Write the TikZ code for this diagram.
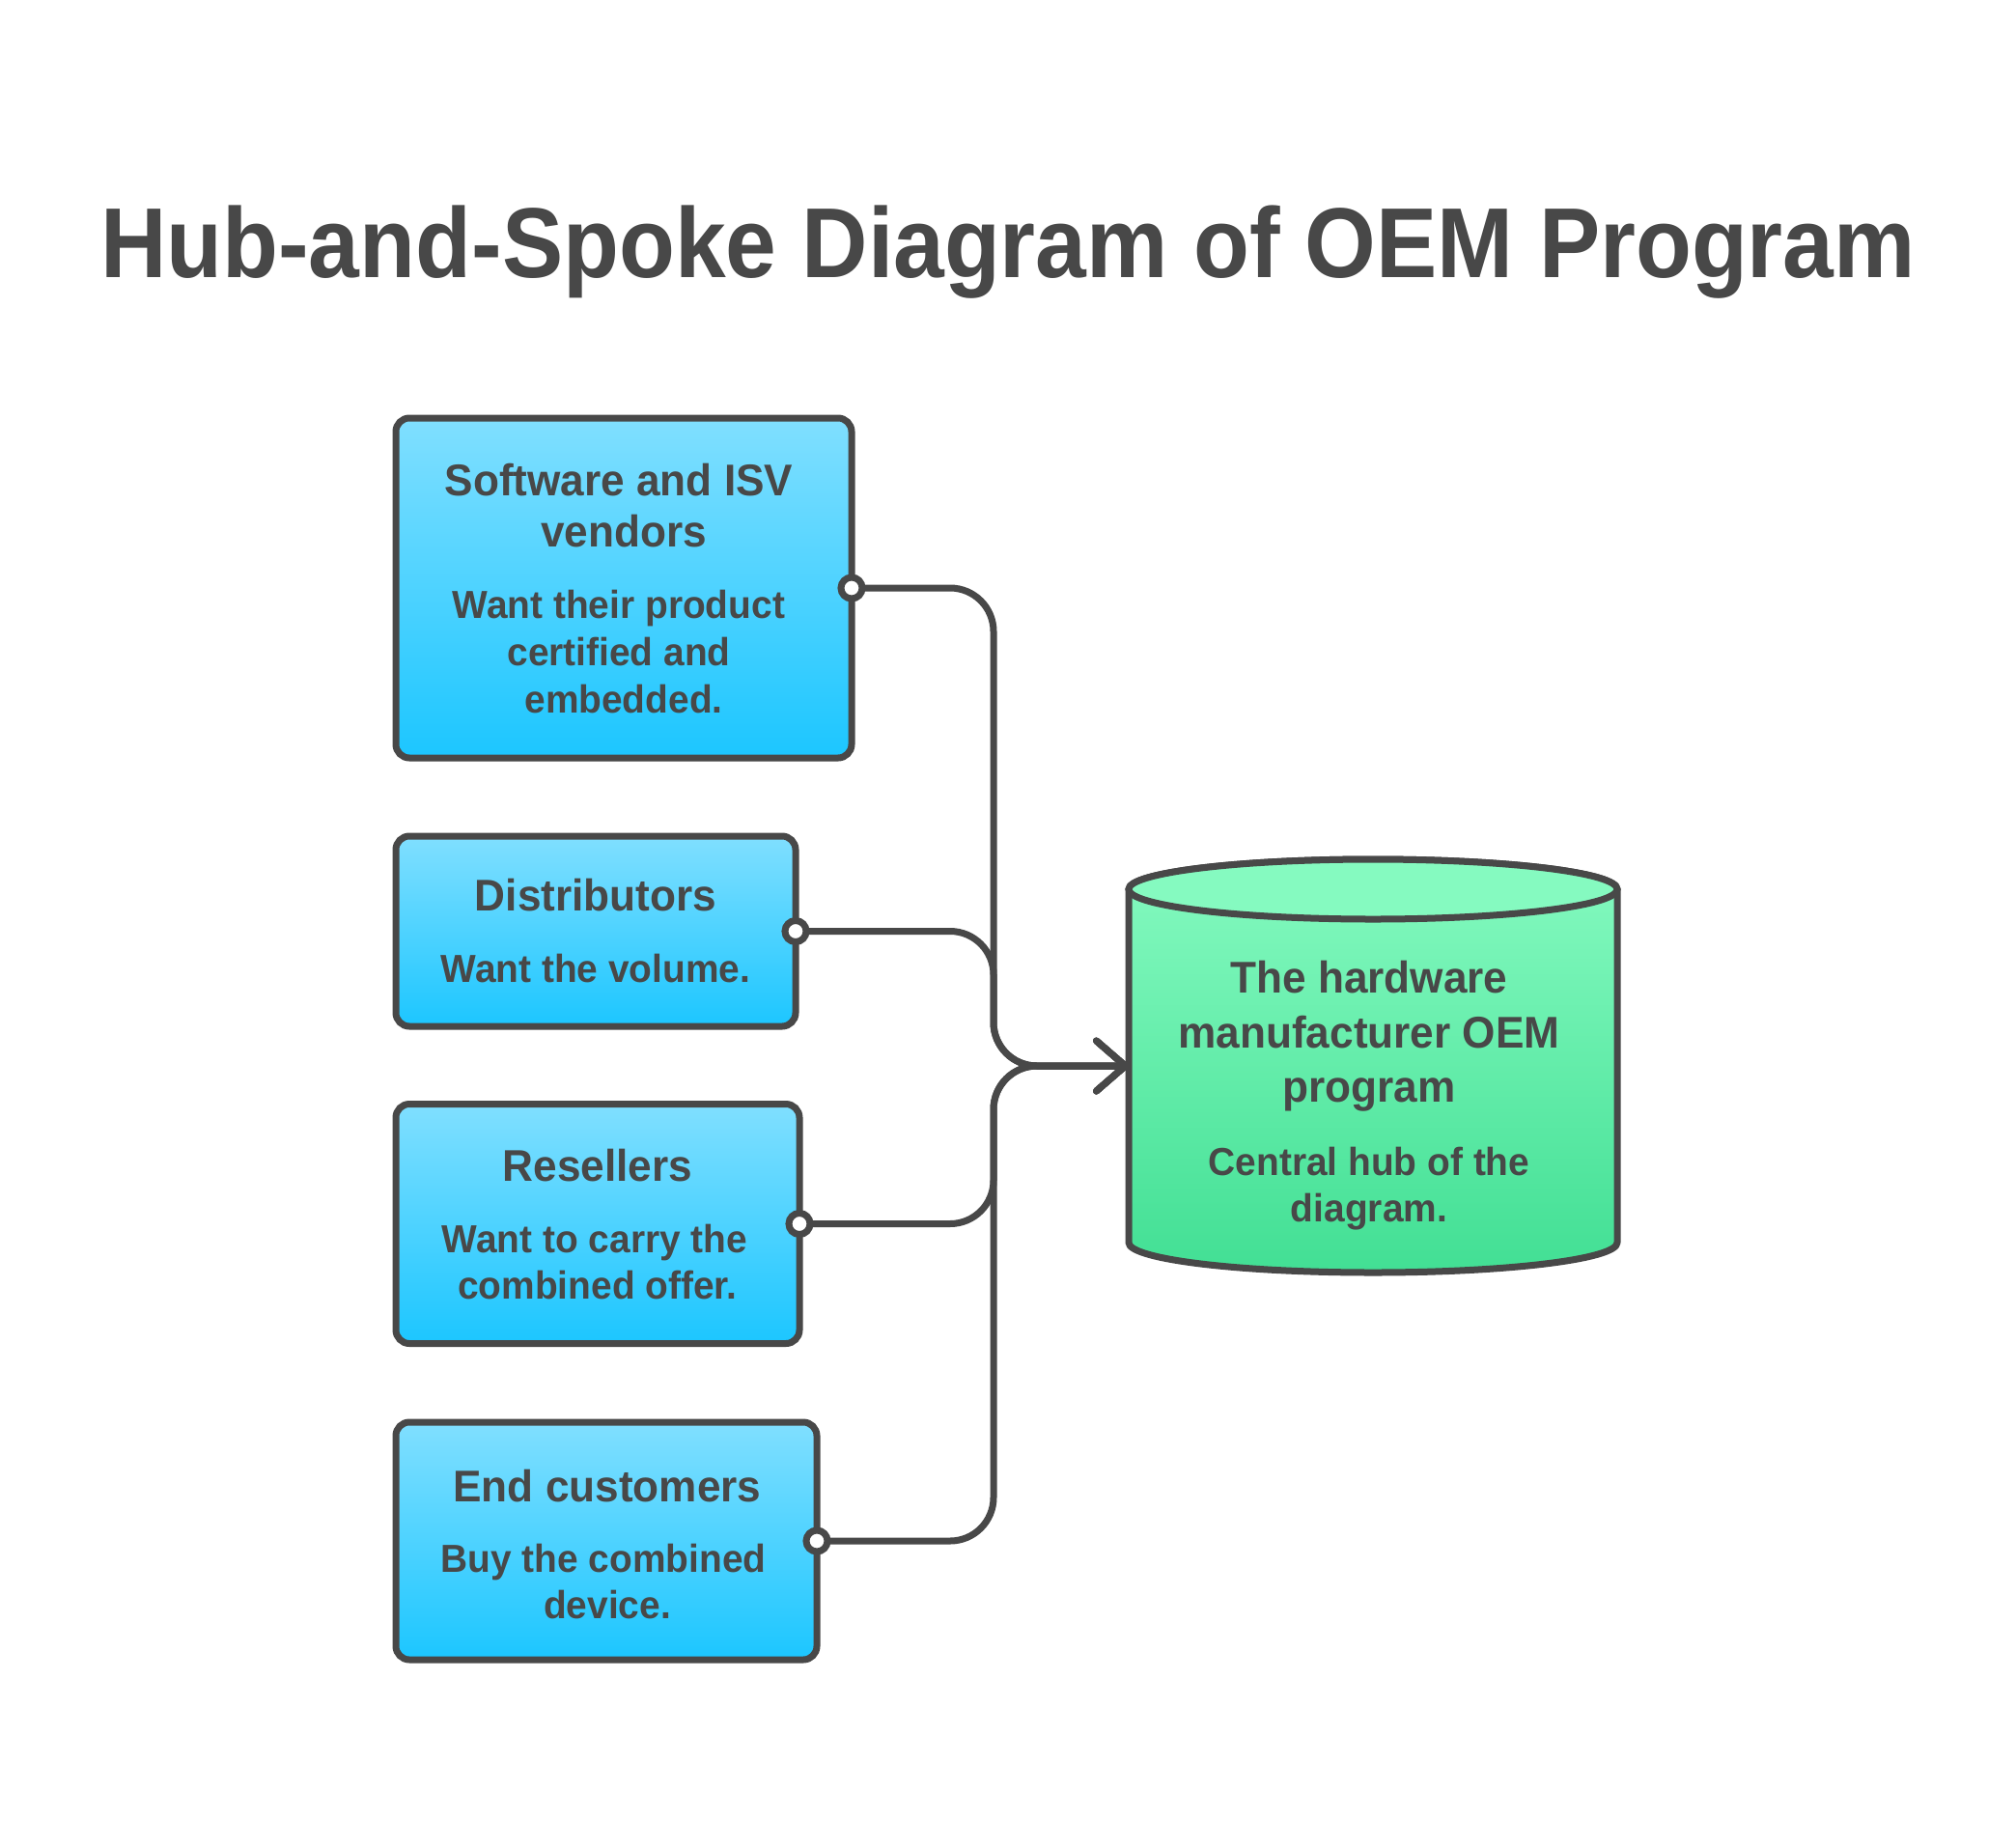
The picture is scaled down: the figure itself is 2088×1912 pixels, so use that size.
\documentclass[tikz,border=0pt]{standalone}
\usepackage{fontspec}
\setmainfont{Liberation Sans}[FakeStretch=0.96]
\newfontfamily\titlefont{Liberation Sans}[FakeStretch=0.92]
\usetikzlibrary{arrows.meta}
\definecolor{ink}{RGB}{72,72,72}
\definecolor{boxtop}{RGB}{128,223,255}
\definecolor{boxbot}{RGB}{28,198,255}
\definecolor{cyltop}{RGB}{133,250,192}
\definecolor{cylbot}{RGB}{66,223,148}
\begin{document}
\begin{tikzpicture}[x=0.5pt,y=-0.5pt,
  card/.style={draw=ink, line width=3.5pt, rounded corners=7pt, top color=boxtop, bottom color=boxbot, outer sep=0pt, inner sep=0pt},
  hd/.style={font=\bfseries\fontsize{23}{26}\selectfont, text=ink, inner sep=0pt, anchor=base},
  bd/.style={font=\bfseries\fontsize{20.25}{24}\selectfont, text=ink, inner sep=0pt, anchor=base},
  link/.style={draw=ink, line width=3.5pt, rounded corners=22.5pt, -{Straight Barb[length=15pt,width=26pt,round]}},
  port/.style={draw=ink, line width=3.5pt, fill=white}
]
\useasboundingbox (0,0) rectangle (2088,1912);
\fill[white] (0,0) rectangle (2088,1912);

% title
\node[font=\titlefont\bfseries\fontsize{51.5}{60}\selectfont, text=ink, anchor=base, inner sep=0pt] (title) at (1044,287) {Hub-and-Spoke Diagram of OEM Program};

% boxes
\node[card, minimum width=236pt, minimum height=176pt] (b1) at (646,609) {};
\node[card, minimum width=207pt, minimum height=98.5pt] (b2) at (617,964.5) {};
\node[card, minimum width=209pt, minimum height=124pt] (b3) at (619,1267.5) {};
\node[card, minimum width=218pt, minimum height=123pt] (b4) at (628,1596) {};

% box texts
\node[hd] (t1a) at (641,513) {Software and ISV};
\node[hd] (t1b) at (646,566) {vendors};
\node[bd] (t1c) at (641,640) {Want their product};
\node[bd] (t1d) at (641,689) {certified and};
\node[bd] (t1e) at (646,738) {embedded.};

\node[hd] (t2a) at (617,943) {Distributors};
\node[bd] (t2b) at (617,1017) {Want the volume.};

\node[hd] (t3a) at (619,1223) {Resellers};
\node[bd] (t3b) at (616,1297) {Want to carry the};
\node[bd] (t3c) at (619,1345) {combined offer.};

\node[hd] (t4a) at (629,1555) {End customers};
\node[bd] (t4b) at (625,1628) {Buy the combined};
\node[bd] (t4c) at (629,1676) {device.};

% cylinder
\shade[top color=cyltop, bottom color=cylbot, draw=ink, line width=3.5pt, line join=round]
  (1169,921) -- (1169,1287) arc[start angle=180, end angle=360, x radius=126.5pt, y radius=15.5pt]
  -- (1675,921) arc[start angle=0, end angle=180, x radius=126.5pt, y radius=15.5pt] -- cycle;
\draw[fill=cyltop, draw=ink, line width=3.5pt] (1422,921) ellipse[x radius=126.5pt, y radius=15.5pt];

\node[hd] (h1) at (1418,1028) {The hardware};
\node[hd] (h2) at (1418,1085) {manufacturer OEM};
\node[hd] (h3) at (1418,1141) {program};
\node[bd] (h4) at (1418,1217) {Central hub of the};
\node[bd] (h5) at (1418,1265) {diagram.};

% connectors
\coordinate (hubW) at (1169,1104);
\coordinate (trunk) at (1029,1104);
\draw[link] (b1.east) -- (b1.east -| trunk) -- (trunk) -- (hubW);
\draw[link] (b2.east) -- (b2.east -| trunk) -- (trunk) -- (hubW);
\draw[link] (b3.east) -- (b3.east -| trunk) -- (trunk) -- (hubW);
\draw[link] (b4.east) -- (b4.east -| trunk) -- (trunk) -- (hubW);

\draw[port] (b1.east) circle[radius=5.5pt];
\draw[port] (b2.east) circle[radius=5.5pt];
\draw[port] (b3.east) circle[radius=5.5pt];
\draw[port] (b4.east) circle[radius=5.5pt];
\end{tikzpicture}
\end{document}
